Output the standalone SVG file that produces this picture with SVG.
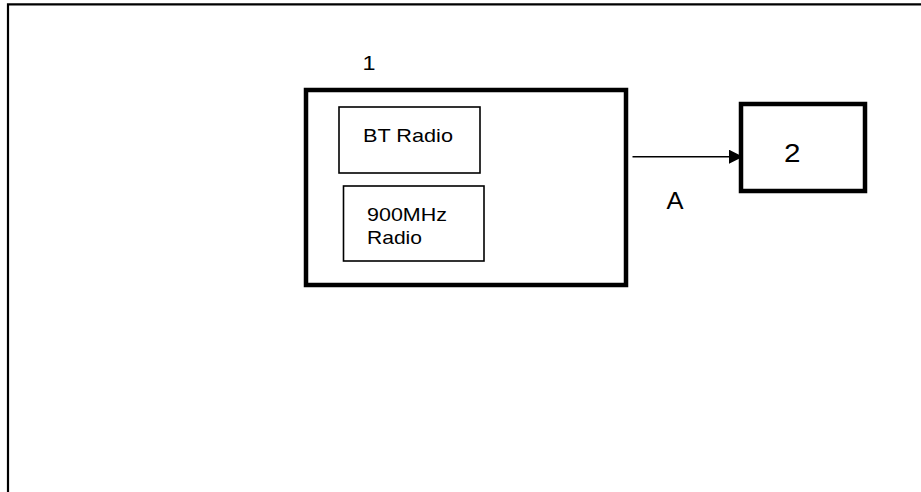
<svg xmlns="http://www.w3.org/2000/svg" width="921" height="492" viewBox="0 0 921 492">
<defs>
<style>
.lbl{font-family:"Liberation Sans",Arial,sans-serif;fill:#000}
.thick{fill:none;stroke:#000;stroke-width:4.5}
.thin{fill:none;stroke:#000;stroke-width:1.6}
.frame{fill:none;stroke:#000;stroke-width:2.2}
</style>
<marker id="arr" viewBox="0 0 14 14" refX="14" refY="7" markerWidth="14" markerHeight="14" markerUnits="userSpaceOnUse" orient="auto">
<path d="M0,0 L14,7 L0,14 Z" fill="#000"/>
</marker>
</defs>
<rect width="921" height="492" fill="#fff"/>
<path class="frame" d="M8,492 V4.3 H921"/>
<g id="node1">
<rect class="thick" x="306" y="90" width="320" height="195"/>
<text class="lbl" x="362.5" y="69.5" font-size="20.5" textLength="13" lengthAdjust="spacingAndGlyphs">1</text>
</g>
<g id="bt-radio">
<rect class="thin" x="339" y="107" width="141" height="66"/>
<text class="lbl" x="363" y="142" font-size="19" textLength="90" lengthAdjust="spacingAndGlyphs">BT Radio</text>
</g>
<g id="radio-900">
<rect class="thin" x="343.5" y="186" width="140.5" height="75"/>
<text class="lbl" x="367" y="220.5" font-size="18.5" textLength="80" lengthAdjust="spacingAndGlyphs">900MHz</text>
<text class="lbl" x="367" y="244" font-size="18.5" textLength="55" lengthAdjust="spacingAndGlyphs">Radio</text>
</g>
<g id="node2">
<rect class="thick" x="741" y="104" width="124" height="87" stroke-width="5"/>
<text class="lbl" x="784" y="161.7" font-size="25" textLength="16.5" lengthAdjust="spacingAndGlyphs">2</text>
</g>
<g id="connectors">
<line class="thin" x1="632.5" y1="156.7" x2="743" y2="156.7" marker-end="url(#arr)"/>
<text class="lbl" x="666.5" y="209" font-size="24" textLength="17" lengthAdjust="spacingAndGlyphs">A</text>
</g>
</svg>
